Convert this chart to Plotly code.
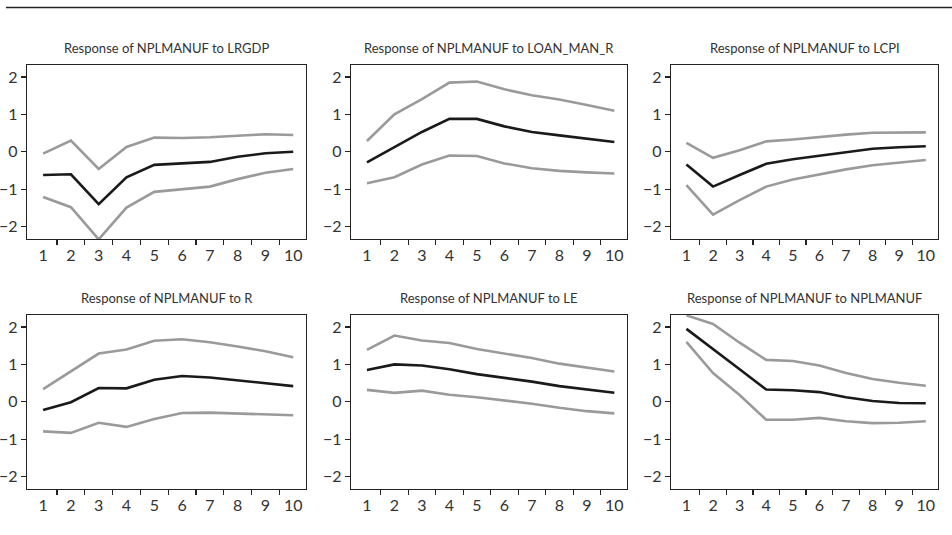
import plotly.graph_objects as go

steps = [1, 2, 3, 4, 5, 6, 7, 8, 9, 10]

titles = [
    "Response of NPLMANUF to LRGDP",
    "Response of NPLMANUF to LOAN_MAN_R",
    "Response of NPLMANUF to LCPI",
    "Response of NPLMANUF to R",
    "Response of NPLMANUF to LE",
    "Response of NPLMANUF to NPLMANUF",
]

lrgdp_resp = [-0.62, -0.60, -1.40, -0.68, -0.35, -0.31, -0.27, -0.13, -0.04, 0.00]
lrgdp_up = [-0.05, 0.30, -0.46, 0.13, 0.38, 0.37, 0.39, 0.44, 0.47, 0.45]
lrgdp_lo = [-1.21, -1.48, -2.34, -1.49, -1.07, -1.00, -0.93, -0.73, -0.56, -0.46]

loan_resp = [-0.28, 0.13, 0.53, 0.88, 0.88, 0.68, 0.53, 0.44, 0.36, 0.26]
loan_up = [0.29, 1.00, 1.41, 1.85, 1.88, 1.67, 1.51, 1.40, 1.25, 1.10]
loan_lo = [-0.84, -0.68, -0.34, -0.10, -0.11, -0.31, -0.44, -0.51, -0.55, -0.58]

lcpi_resp = [-0.34, -0.93, -0.62, -0.32, -0.20, -0.11, -0.01, 0.08, 0.12, 0.15]
lcpi_up = [0.24, -0.16, 0.04, 0.28, 0.33, 0.40, 0.46, 0.51, 0.52, 0.52]
lcpi_lo = [-0.89, -1.68, -1.29, -0.93, -0.74, -0.60, -0.47, -0.36, -0.28, -0.22]

r_resp = [-0.22, -0.01, 0.37, 0.36, 0.59, 0.69, 0.65, 0.58, 0.51, 0.42]
r_up = [0.34, 0.81, 1.29, 1.40, 1.63, 1.67, 1.59, 1.48, 1.35, 1.19]
r_lo = [-0.79, -0.83, -0.56, -0.67, -0.46, -0.30, -0.29, -0.31, -0.34, -0.36]

le_resp = [0.85, 1.00, 0.97, 0.87, 0.74, 0.65, 0.54, 0.42, 0.32, 0.24]
le_up = [1.39, 1.77, 1.64, 1.57, 1.41, 1.30, 1.17, 1.02, 0.91, 0.81]
le_lo = [0.32, 0.24, 0.30, 0.19, 0.12, 0.04, -0.05, -0.16, -0.25, -0.31]

npl_resp = [1.95, 1.42, 0.87, 0.33, 0.31, 0.26, 0.12, 0.02, -0.03, -0.04]
npl_up = [2.31, 2.08, 1.58, 1.12, 1.09, 0.97, 0.77, 0.61, 0.51, 0.43]
npl_lo = [1.60, 0.77, 0.18, -0.48, -0.48, -0.43, -0.52, -0.57, -0.56, -0.52]

panels = [
    (lrgdp_resp, lrgdp_up, lrgdp_lo),
    (loan_resp, loan_up, loan_lo),
    (lcpi_resp, lcpi_up, lcpi_lo),
    (r_resp, r_up, r_lo),
    (le_resp, le_up, le_lo),
    (npl_resp, npl_up, npl_lo),
]

y_ticks = [-2, -1, 0, 1, 2]
x_tick_marks = [1.5, 2.5, 3.5, 4.5, 5.5, 6.5, 7.5, 8.5, 9.5]

W, H = 952, 535
col_px = [(27, 306), (351, 627), (671, 938)]
row_px = [(65, 239), (315, 489)]

FONT = "Lato, Roboto, sans-serif"
GREY = "#9a9a9a"
BLACK = "#1a1a1a"
AX = "#222222"
XR = [0.42, 10.46]

fig = go.Figure()
layout = {}
annotations = []
for i, (resp, up, lo) in enumerate(panels):
    r, c = divmod(i, 3)
    n = "" if i == 0 else str(i + 1)
    xa, ya = "x" + n, "y" + n
    for vals, col in ((up, GREY), (lo, GREY), (resp, BLACK)):
        fig.add_trace(go.Scatter(
            x=steps, y=vals, mode="lines", xaxis=xa, yaxis=ya,
            line=dict(color=col, width=2.6), showlegend=False,
            hoverinfo="skip",
        ))
    x0, x1 = col_px[c]
    t, b = row_px[r]
    dom_x = [x0 / W, x1 / W]
    dom_y = [1 - b / H, 1 - t / H]
    # main x axis: frame + tick marks between the step labels
    layout["xaxis" + n] = dict(
        domain=dom_x, anchor=ya, range=XR,
        tickmode="array", tickvals=x_tick_marks, ticks="outside", ticklen=5,
        tickcolor=AX, tickwidth=1.2, showticklabels=False,
        showline=True, linecolor=AX, linewidth=1.2, mirror=True,
        showgrid=False, zeroline=False, fixedrange=True,
    )
    # overlay x axis: step labels only
    n2 = str(i + 7)
    layout["xaxis" + n2] = dict(
        domain=dom_x, anchor=ya, overlaying=xa, range=XR, side="bottom",
        tickmode="array", tickvals=steps, ticks="", showline=False,
        showgrid=False, zeroline=False, fixedrange=True,
        ticklabelstandoff=5,
        tickfont=dict(family=FONT, size=16, color="#333"),
    )
    layout["yaxis" + n] = dict(
        domain=dom_y, anchor=xa, range=[-2.33, 2.32],
        tickmode="array", tickvals=y_ticks, ticks="outside", ticklen=5,
        tickcolor=AX, tickwidth=1.2,
        showline=True, linecolor=AX, linewidth=1.2, mirror=True,
        showgrid=False, zeroline=False, fixedrange=True,
        tickfont=dict(family=FONT, size=16, color="#333"),
    )
    annotations.append(dict(
        text=titles[i], xref="paper", yref="paper",
        x=(x0 + x1) / 2 / W, y=1 - (t - 7) / H,
        xanchor="center", yanchor="bottom", showarrow=False,
        font=dict(family=FONT, size=13, color="#333"),
    ))

# invisible traces so the label-only overlay axes are drawn
for i in range(6):
    n = "" if i == 0 else str(i + 1)
    fig.add_trace(go.Scatter(
        x=[steps[0]], y=[y_ticks[2]], mode="markers", xaxis="x" + str(i + 7),
        yaxis="y" + n, marker=dict(opacity=0), showlegend=False,
        hoverinfo="skip",
    ))

fig.update_layout(
    width=W, height=H, margin=dict(l=0, r=0, t=0, b=0),
    paper_bgcolor="white", plot_bgcolor="white",
    annotations=annotations,
    shapes=[dict(type="line", xref="paper", yref="paper",
                 x0=6 / W, x1=1, y0=1 - 7.5 / H, y1=1 - 7.5 / H,
                 line=dict(color=AX, width=1.4))],
    **layout,
)
fig.write_html(
    "out.html",
    config={"displayModeBar": False, "staticPlot": True},
    post_script="document.body.style.margin='0';document.body.style.overflow='hidden';",
)
